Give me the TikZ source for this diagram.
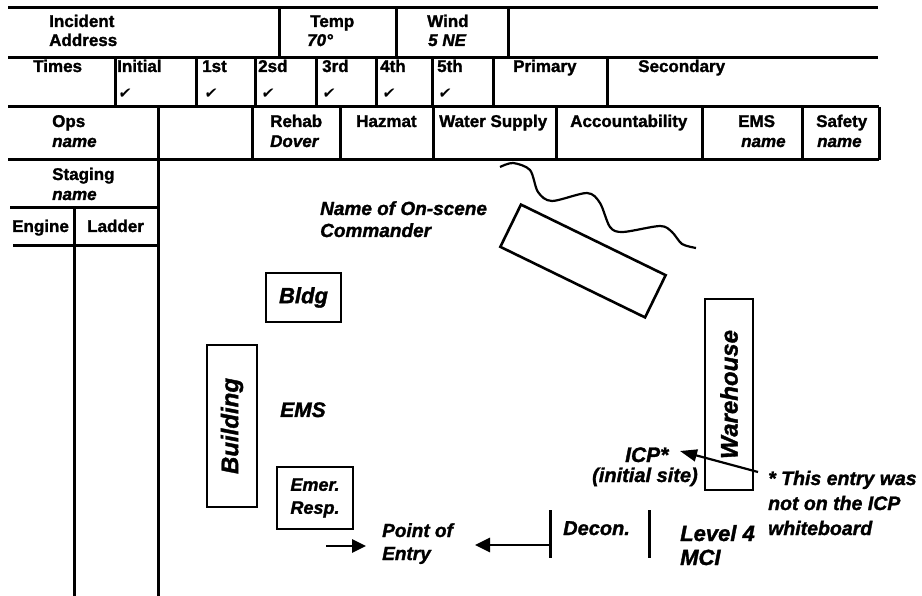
\documentclass[tikz,border=0pt]{standalone}
\usepackage{fontspec}
\setmainfont{Liberation Sans}[BoldFeatures={FakeBold=1.5},BoldItalicFeatures={FakeBold=1.5}]
\newfontfamily\chkfont[FakeSlant=0.15]{DejaVu Sans}
\usetikzlibrary{arrows.meta}
\newcommand\myfs[1]{\fontsize{#1}{#1}\selectfont}
\begin{document}
\begin{tikzpicture}[x=1pt,y=-1pt,
  tline/.style={line width=3pt},
  txt/.style={anchor=base west, inner sep=0pt, font=\myfs{17}\bfseries},
  itx/.style={anchor=base west, inner sep=0pt, font=\myfs{17}\bfseries\itshape},
  chk/.style={anchor=base west, inner sep=0pt, font=\chkfont\myfs{15}},
  lab/.style={anchor=base west, inner sep=0pt, font=\bfseries\itshape},
  box/.style={draw, line width=2.6pt, inner sep=0pt, font=\bfseries\itshape},
  bigarrow/.style={line width=2.8pt, -{Triangle[length=15pt,width=14pt]}},
]
\useasboundingbox (0,0) rectangle (922,596);
% ---------- table grid ----------
\draw[tline] (8,8) -- (878,8);
\draw[tline] (8,58) -- (878,58);
\draw[tline] (8,107) -- (879,107);
\draw[tline] (8,160) -- (879,160);
\draw[tline] (10,208) -- (158,208);
\draw[tline] (13,246) -- (158,246);
% row 1 verticals
\foreach \x in {279,396,508} \draw[tline] (\x,8) -- (\x,58);
% row 2 verticals
\foreach \x in {115,196,255,316,376,432,493,607} \draw[tline] (\x,58) -- (\x,107);
% row 3 verticals
\foreach \x in {252,340,433,556,702,802,879} \draw[tline] (\x,107) -- (\x,160);
\draw[tline] (158,107) -- (158,596);
\draw[tline] (74,208) -- (74,596);
% ---------- table text ----------
\node[txt] (inc) at (49,27) {Incident};
\node[txt] (addr) at (49,46) {Address};
\node[txt] (temp) at (310,27) {Temp};
\node[itx] (tempv) at (307,46) {70°};
\node[txt] (wind) at (427,27) {Wind};
\node[itx] (windv) at (428,46) {5 NE};
\node[txt] (times) at (33,72) {Times};
\node[txt] (initial) at (117,72) {Initial};
\node[txt] (first) at (202,72) {1st};
\node[txt] (second) at (258,72) {2sd};
\node[txt] (third) at (322,72) {3rd};
\node[txt] (fourth) at (380,72) {4th};
\node[txt] (fifth) at (437,72) {5th};
\node[txt] (primary) at (513,72) {Primary};
\node[txt] (secondary) at (638,72) {Secondary};
\node[chk] (c0) at (118,99) {✔};
\node[chk] (c1) at (204,99) {✔};
\node[chk] (c2) at (261,99) {✔};
\node[chk] (c3) at (322,99) {✔};
\node[chk] (c4) at (382,99) {✔};
\node[chk] (c5) at (438,99) {✔};
\node[txt] (ops) at (52,127) {Ops};
\node[itx] (opsn) at (52,147) {name};
\node[txt] (rehab) at (270,127) {Rehab};
\node[itx] (dover) at (270,147) {Dover};
\node[txt] (hazmat) at (356,127) {Hazmat};
\node[txt] (water) at (439,127) {Water Supply};
\node[txt] (acc) at (570,127) {Accountability};
\node[txt] (ems) at (738,127) {EMS};
\node[itx] (emsn) at (741,147) {name};
\node[txt] (safety) at (816,127) {Safety};
\node[itx] (safetyn) at (817,147) {name};
\node[txt] (staging) at (52,180) {Staging};
\node[itx] (stagingn) at (52,200) {name};
\node[txt] (engine) at (12,232) {Engine};
\node[txt] (ladder) at (87,232) {Ladder};
% ---------- scene ----------
\draw[line width=2.2pt, line join=round] plot[smooth, tension=0.5] coordinates
  {(500,167) (513,163) (530,170) (538,192) (552,201) (587,193) (600,203) (610,227) (623,232) (660,226) (672,232) (682,244) (696,248)};
\node[draw, line width=2.6pt, inner sep=0pt, minimum width=161pt, minimum height=47pt, rotate=-26] (cmdpost) at (583,261) {};
\node[lab, font=\myfs{19}\bfseries\itshape] (osc1) at (320,215) {Name of On-scene};
\node[lab, font=\myfs{19}\bfseries\itshape] (osc2) at (320,237) {Commander};
\node[box, minimum width=75pt, minimum height=49pt, font=\myfs{22}\bfseries\itshape] (bldg) at (303.5,297.5) {Bldg};
\node[box, rotate=90, minimum width=162pt, minimum height=50pt, font=\myfs{24}\bfseries\itshape] (building) at (232,426) {Building};
\node[box, rotate=90, minimum width=191pt, minimum height=48pt, font=\myfs{24}\bfseries\itshape] (warehouse) at (729,394.5) {Warehouse};
\node[lab, font=\myfs{21}\bfseries\itshape] (emslab) at (280,417) {EMS};
\node[box, minimum width=76pt, minimum height=62pt, align=left, font=\fontsize{18}{23}\selectfont\bfseries\itshape] (emer) at (315,498) {Emer.\\Resp.};
\node[lab, font=\myfs{19}\bfseries\itshape] (poe1) at (382,537) {Point of};
\node[lab, font=\myfs{19}\bfseries\itshape] (poe2) at (382,560) {Entry};
\node[lab, font=\myfs{20}\bfseries\itshape] (decon) at (563,535) {Decon.};
\node[lab, font=\myfs{22}\bfseries\itshape] (lvl1) at (680,541) {Level 4};
\node[lab, font=\myfs{22}\bfseries\itshape] (lvl2) at (680,565) {MCI};
\node[lab, font=\myfs{21}\bfseries\itshape] (icp) at (625,462) {ICP*};
\node[lab, font=\myfs{20}\bfseries\itshape] (icp2) at (592,482) {(initial site)};
\node[lab, font=\myfs{19.5}\bfseries\itshape] (note1) at (768,485) {* This entry was};
\node[lab, font=\myfs{19.5}\bfseries\itshape] (note2) at (768,510) {not on the ICP};
\node[lab, font=\myfs{19.5}\bfseries\itshape] (note3) at (768,535) {whiteboard};
% decon bars and arrows
\coordinate (barAtop) at (550,510);
\coordinate (barAbot) at (550,558);
\coordinate (barBtop) at (649,510);
\coordinate (barBbot) at (649,558);
\draw[line width=3pt] (barAtop) -- (barAbot);
\draw[line width=3pt] (barBtop) -- (barBbot);
\coordinate (barAmid) at (550,545);
\coordinate (leftTip) at (475,545);
\draw[bigarrow] (barAmid) -- (leftTip);
\coordinate (rStart) at (326,546);
\coordinate (rTip) at (366,546);
\draw[line width=2.8pt, -{Triangle[length=14pt,width=13pt]}] (rStart) -- (rTip);
\coordinate (icpStart) at (758,472);
\coordinate (icpTip) at (680,451);
\draw[line width=2.2pt, -{Triangle[length=17pt,width=12pt]}] (icpStart) -- (icpTip);
\end{tikzpicture}
\end{document}
